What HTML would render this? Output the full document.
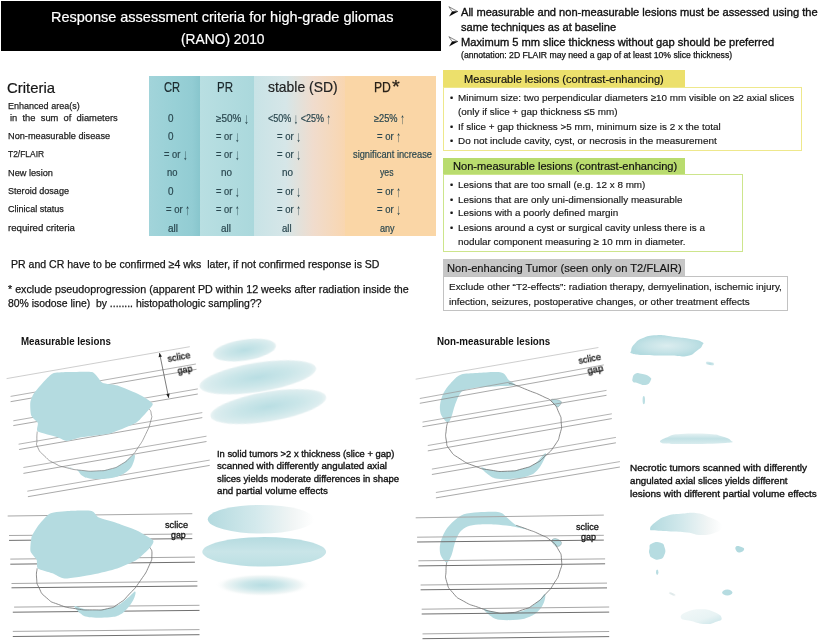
<!DOCTYPE html>
<html><head><meta charset="utf-8"><title>RANO 2010</title>
<style>
html,body{margin:0;padding:0;background:#fff;}
body{width:819px;height:640px;position:relative;overflow:hidden;font-family:"Liberation Sans", sans-serif;}
.t{position:absolute;white-space:pre;transform-origin:0 70%;font-family:"Liberation Sans", sans-serif;}
.b{position:absolute;box-sizing:border-box;}
svg{position:absolute;left:0;top:0;}
</style></head><body>
<div class="b" style="left:1px;top:1.3px;width:440px;height:50px;background:#000"></div>
<div class="b" style="left:149.4px;top:75.5px;width:50.6px;height:160px;background:linear-gradient(to right,#a2d4da 0%,#98d0d6 50%,#92ccd3 85%,#88c6cd 100%)"></div>
<div class="b" style="left:200px;top:75.5px;width:54px;height:160px;background:linear-gradient(to right,#b9dfe2,#aad8dc)"></div>
<div class="b" style="left:254px;top:75.5px;width:90.6px;height:160px;background:linear-gradient(to right,#c8e3e6 0%,#d6e6e8 35%,#f0dccd 65%,#f9d6b0 100%)"></div>
<div class="b" style="left:344.6px;top:75.5px;width:91.6px;height:160px;background:#fad6a6"></div>
<div class="b" style="left:443.4px;top:70px;width:242px;height:17.5px;background:#ece06c"></div>
<div class="b" style="left:443.4px;top:87px;width:358.6px;height:63.5px;border:1.5px solid #eee88c;background:#fff"></div>
<div class="b" style="left:443.4px;top:157.8px;width:242px;height:16.7px;background:#b9dc6e"></div>
<div class="b" style="left:443.4px;top:174px;width:299.6px;height:77.5px;border:1.5px solid #cde58c;background:#fff"></div>
<div class="b" style="left:443.4px;top:259px;width:242px;height:17.6px;background:#c6c6c6"></div>
<div class="b" style="left:443.4px;top:276.4px;width:344.6px;height:34.4px;border:1.5px solid #c2c2c2;background:#fff"></div>

<svg width="819" height="640" viewBox="0 0 819 640">
<defs>
<radialGradient id="rg1"><stop offset="0" stop-color="#b9dee3"/><stop offset="0.55" stop-color="#cbe6e9"/><stop offset="0.92" stop-color="#dcedef"/><stop offset="1" stop-color="#e9f3f4"/></radialGradient>
<linearGradient id="lgfade" x1="0" x2="1" y1="0" y2="0"><stop offset="0" stop-color="#b3dadf"/><stop offset="0.45" stop-color="#d3e9ec"/><stop offset="0.8" stop-color="#f1f5f5"/><stop offset="1" stop-color="#ffffff"/></linearGradient>
<linearGradient id="lgv" x1="0" x2="0" y1="0" y2="1"><stop offset="0" stop-color="#b5dbe0"/><stop offset="0.5" stop-color="#c9e5e8"/><stop offset="1" stop-color="#bbdfe3"/></linearGradient>
<radialGradient id="rgblur"><stop offset="0" stop-color="#b7dde2"/><stop offset="0.4" stop-color="#cbe6e9"/><stop offset="0.8" stop-color="#f0f6f6"/><stop offset="1" stop-color="#ffffff" stop-opacity="0"/></radialGradient>
<radialGradient id="rgb1"><stop offset="0" stop-color="#dbedef"/><stop offset="0.6" stop-color="#c6e3e7"/><stop offset="1" stop-color="#b4dbe0"/></radialGradient>
<linearGradient id="lgb5" x1="0" x2="0" y1="0" y2="1"><stop offset="0" stop-color="#e4f1f2"/><stop offset="0.5" stop-color="#c2e1e5"/><stop offset="1" stop-color="#d8ecee"/></linearGradient>
<linearGradient id="lgc7" x1="0" x2="1" y1="0" y2="1"><stop offset="0" stop-color="#f2f8f8"/><stop offset="0.6" stop-color="#e8f3f4"/><stop offset="1" stop-color="#c8e4e8"/></linearGradient>
<filter id="bl1" x="-10%" y="-10%" width="120%" height="120%"><feGaussianBlur stdDeviation="0.6"/></filter>
<filter id="bl2" x="-20%" y="-20%" width="140%" height="140%"><feGaussianBlur stdDeviation="1.2"/></filter>
</defs>
<line x1="6.6" y1="378.6" x2="189.8" y2="346.7" stroke="#bdbdbd" stroke-width="0.75"/>
<line x1="10.6" y1="396.4" x2="195.9" y2="364.0" stroke="#9a9a9a" stroke-width="0.75"/>
<line x1="10.6" y1="401.7" x2="196.5" y2="369.3" stroke="#8c8c8c" stroke-width="0.75"/>
<line x1="13.3" y1="420.8" x2="197.8" y2="388.9" stroke="#9a9a9a" stroke-width="0.75"/>
<line x1="13.3" y1="425.6" x2="197.8" y2="394.0" stroke="#8c8c8c" stroke-width="0.75"/>
<line x1="18.6" y1="444.2" x2="202.3" y2="412.6" stroke="#9a9a9a" stroke-width="0.75"/>
<line x1="19.1" y1="449.5" x2="202.3" y2="417.6" stroke="#8c8c8c" stroke-width="0.75"/>
<line x1="23.4" y1="467.5" x2="206.5" y2="436.2" stroke="#9a9a9a" stroke-width="0.75"/>
<line x1="23.4" y1="473.4" x2="206.5" y2="441.5" stroke="#8c8c8c" stroke-width="0.75"/>
<line x1="27.3" y1="491.2" x2="209.7" y2="460.1" stroke="#9a9a9a" stroke-width="0.75"/>
<line x1="27.9" y1="496.7" x2="209.7" y2="465.4" stroke="#8c8c8c" stroke-width="0.75"/>
<path d="M52.8,373.4C55.1,372.6 62.9,372.3 66.9,372.1C70.8,372.0 88.6,371.1 92.2,372.1C95.8,373.2 100.0,381.5 102.5,382.8C105.0,384.2 113.8,384.4 117.5,385.6C121.2,386.8 136.5,393.2 140.0,395.0C143.5,396.8 151.6,402.0 152.6,403.4C153.5,404.8 150.6,407.5 149.4,409.1C148.1,410.7 141.7,417.8 140.0,419.4C138.3,420.9 135.5,423.2 132.5,424.6C129.5,426.0 115.1,432.2 110.0,433.4C104.9,434.7 86.2,436.4 81.9,437.2C77.6,437.9 69.3,440.9 66.9,440.9C64.4,440.9 60.4,438.1 57.5,437.2C54.6,436.2 39.8,433.0 37.8,431.6C35.8,430.2 38.5,424.7 37.8,423.1C37.2,421.5 32.0,417.7 31.2,415.6C30.5,413.6 30.0,404.8 30.3,402.5C30.6,400.2 32.7,395.3 34.1,393.1C35.5,391.0 42.5,382.9 44.4,380.9C46.2,379.0 50.6,374.3 52.8,373.4Z" fill="#b4dbe0"/>
<path d="M65.0,466.2C65.8,466.5 72.9,467.8 76.2,469.6C79.6,471.5 79.2,473.9 81.9,475.6C84.5,477.4 84.9,477.8 89.4,478.4C93.9,479.1 98.8,479.2 104.4,478.8C110.0,478.4 112.6,478.3 117.5,476.6C122.4,474.8 125.6,472.8 128.8,470.0C131.9,467.2 132.2,465.5 133.4,462.5C134.6,459.5 135.3,456.1 134.8,455.0C134.2,453.9 133.3,455.0 130.6,456.9C127.9,458.8 125.4,461.9 121.2,464.4C117.1,466.8 114.9,467.8 110.0,469.1C105.1,470.4 102.5,470.7 96.9,470.9C91.2,471.2 86.8,470.9 81.9,470.4C77.0,469.9 75.9,469.3 72.5,468.5C69.1,467.7 64.2,466.0 65.0,466.2Z" fill="#b4dbe0"/>
<path d="M37.2,431.6C37.1,434.4 36.7,434.7 36.9,440.0C37.1,445.3 35.3,442.2 37.8,447.5C40.3,452.8 38.8,450.6 44.4,455.9C50.0,461.2 47.2,459.5 54.7,463.4C62.2,467.4 57.8,465.4 66.9,467.8C75.9,470.1 71.9,469.3 81.9,470.4C91.9,471.4 87.5,471.4 96.9,470.9C106.2,470.5 101.9,471.2 110.0,469.1C118.1,466.9 114.4,468.4 121.2,464.4C128.1,460.3 125.0,462.5 130.6,456.9C136.2,451.2 133.1,455.0 138.1,447.5C143.1,440.0 141.4,443.1 145.6,434.4C149.8,425.6 148.8,428.1 150.7,421.2C152.6,414.4 151.7,417.8 151.2,413.8C150.8,409.7 150.0,410.6 149.4,409.1" fill="none" stroke="#7d7d7d" stroke-width="0.7"/>
<line x1="159.5" y1="353.0" x2="168.7" y2="397.9" stroke="#444" stroke-width="0.7"/>
<path d="M159.5,353.0L162.0,356.6L158.6,357.3Z" fill="#222"/>
<path d="M168.7,397.9L166.2,394.3L169.6,393.6Z" fill="#222"/>
<line x1="7.7" y1="516.0" x2="192.3" y2="513.7" stroke="#a8a8a8" stroke-width="1.0"/>
<line x1="9.0" y1="535.5" x2="192.3" y2="534.0" stroke="#a8a8a8" stroke-width="1.0"/>
<line x1="9.0" y1="540.4" x2="192.3" y2="538.6" stroke="#707070" stroke-width="1.0"/>
<line x1="10.3" y1="559.1" x2="194.9" y2="557.1" stroke="#a8a8a8" stroke-width="1.0"/>
<line x1="10.3" y1="564.2" x2="194.9" y2="562.2" stroke="#707070" stroke-width="1.0"/>
<line x1="11.5" y1="583.5" x2="197.4" y2="581.4" stroke="#a8a8a8" stroke-width="1.0"/>
<line x1="11.5" y1="587.8" x2="197.4" y2="586.0" stroke="#707070" stroke-width="1.0"/>
<line x1="14.1" y1="607.1" x2="199.5" y2="605.3" stroke="#a8a8a8" stroke-width="1.0"/>
<line x1="12.8" y1="612.2" x2="199.5" y2="610.4" stroke="#707070" stroke-width="1.0"/>
<line x1="12.8" y1="631.4" x2="199.5" y2="629.6" stroke="#a8a8a8" stroke-width="1.0"/>
<line x1="12.8" y1="636.5" x2="199.5" y2="634.7" stroke="#707070" stroke-width="1.0"/>
<path d="M50.1,513.4C53.1,512.1 65.4,511.2 69.6,511.0C73.7,510.7 88.6,510.3 91.6,511.0C94.5,511.6 96.3,516.4 98.9,517.6C101.5,518.8 113.4,521.9 117.2,523.2C121.0,524.5 133.2,528.8 136.8,530.5C140.3,532.2 151.8,538.6 153.1,540.3C154.5,542.0 151.8,545.7 150.2,547.6C148.5,549.6 140.0,557.8 136.8,559.8C133.5,561.9 121.6,566.9 117.2,568.4C112.8,569.8 98.0,573.5 92.8,574.5C87.5,575.5 68.7,578.8 64.7,578.6C60.7,578.5 55.2,574.3 52.5,573.3C49.8,572.2 39.4,569.7 37.9,568.4C36.3,567.0 37.4,561.5 36.6,559.8C35.9,558.1 31.0,553.6 30.5,551.3C30.0,549.0 30.9,539.3 31.7,536.6C32.6,533.9 37.2,526.7 39.1,524.4C40.9,522.1 47.0,514.8 50.1,513.4Z" fill="#b4dbe0"/>
<path d="M74.5,606.2C74.0,607.2 77.7,611.4 80.6,613.6C83.5,615.8 83.3,616.5 89.1,617.2C95.0,617.9 103.8,617.7 109.9,617.2C116.0,616.7 116.0,616.7 119.7,614.8C123.3,612.8 125.3,610.9 128.2,607.4C131.1,604.0 132.9,600.9 134.3,597.7C135.7,594.5 136.0,591.8 135.0,591.6C134.1,591.3 132.7,593.8 129.4,596.5C126.1,599.1 122.8,602.6 118.4,605.0C114.0,607.4 112.6,607.7 107.4,608.7C102.3,609.6 97.7,609.9 92.8,609.9C87.9,609.9 86.7,609.4 83.0,608.7C79.4,607.9 75.0,605.3 74.5,606.2Z" fill="#b4dbe0"/>
<path d="M37.1,568.4C37.0,571.6 36.0,571.6 36.6,578.1C37.3,584.7 35.8,581.4 39.1,587.9C42.3,594.4 39.9,592.1 46.4,597.7C52.9,603.2 48.8,600.9 58.6,604.5C68.4,608.2 64.3,606.9 75.7,608.7C87.1,610.5 82.2,609.9 92.8,609.9C103.4,609.9 98.9,610.7 107.4,608.7C116.0,606.6 111.1,608.7 118.4,603.8C125.8,598.9 122.1,601.8 129.4,594.0C136.8,586.3 133.9,589.9 140.4,580.6C146.9,571.2 145.1,574.5 149.0,565.9C152.8,557.4 151.5,561.1 151.9,554.9C152.3,548.8 150.8,550.1 150.2,547.6" fill="none" stroke="#6e6e6e" stroke-width="0.8"/>
<path d="M447.5,422.5C446.0,422.1 442.4,417.6 441.2,415.0C440.1,412.4 439.6,408.4 440.0,405.0C440.4,401.6 441.9,396.1 443.8,392.5C445.6,388.9 449.9,383.9 452.5,381.2C455.1,378.6 457.5,375.7 461.2,374.5C465.0,373.3 471.5,373.3 477.5,373.0C483.5,372.7 496.6,371.4 501.2,372.5C505.9,373.6 506.7,378.1 508.8,380.0C510.8,381.9 516.7,384.1 515.0,385.0C513.3,385.9 503.1,385.9 497.5,386.2C491.9,386.6 482.4,386.9 477.5,387.5C472.6,388.1 467.6,389.1 465.0,390.0C462.4,390.9 461.5,391.5 460.0,393.8C458.5,396.0 456.3,401.4 455.0,405.0C453.7,408.6 452.4,414.9 451.2,417.5C450.1,420.1 449.0,422.9 447.5,422.5Z" fill="#b4dbe0"/>
<path d="M481.2,467.5C481.0,468.5 485.5,472.8 488.8,475.0C492.0,477.2 492.8,478.0 497.5,478.8C502.2,479.5 506.5,479.2 512.5,478.8C518.5,478.2 522.5,478.0 527.5,476.2C532.5,474.5 534.0,473.8 537.5,470.0C541.0,466.2 543.6,460.8 545.0,457.5C546.4,454.2 546.5,452.5 544.5,453.8C542.5,455.0 539.4,460.8 535.0,463.8C530.6,466.8 528.0,467.2 522.5,468.8C517.0,470.2 514.0,471.0 507.5,471.2C501.0,471.5 495.2,470.8 490.0,470.0C484.8,469.2 481.5,466.5 481.2,467.5Z" fill="#b4dbe0"/>
<path d="M551.2,399.5C551.5,398.9 554.9,399.2 556.2,399.5C557.6,399.8 561.3,401.0 561.5,402.0C561.7,403.0 559.0,406.7 558.0,407.0C557.0,407.3 554.9,405.0 554.0,404.0C553.1,403.0 551.0,400.1 551.2,399.5Z" fill="#b4dbe0" stroke="#8a9a9c" stroke-width="0.5"/>
<line x1="415.7" y1="379.2" x2="598.4" y2="347.5" stroke="#bdbdbd" stroke-width="0.75"/>
<line x1="419.8" y1="398.5" x2="603.8" y2="364.9" stroke="#9a9a9a" stroke-width="0.75"/>
<line x1="419.8" y1="403.3" x2="603.8" y2="370.3" stroke="#8c8c8c" stroke-width="0.75"/>
<line x1="422.5" y1="422.1" x2="606.5" y2="390.4" stroke="#9a9a9a" stroke-width="0.75"/>
<line x1="422.5" y1="426.7" x2="606.5" y2="395.3" stroke="#8c8c8c" stroke-width="0.75"/>
<line x1="427.8" y1="445.5" x2="611.8" y2="413.8" stroke="#9a9a9a" stroke-width="0.75"/>
<line x1="427.8" y1="450.9" x2="611.8" y2="418.6" stroke="#8c8c8c" stroke-width="0.75"/>
<line x1="431.9" y1="469.1" x2="615.9" y2="437.4" stroke="#9a9a9a" stroke-width="0.75"/>
<line x1="431.9" y1="474.5" x2="615.9" y2="442.8" stroke="#8c8c8c" stroke-width="0.75"/>
<line x1="435.9" y1="492.5" x2="619.9" y2="461.6" stroke="#9a9a9a" stroke-width="0.75"/>
<line x1="435.9" y1="497.9" x2="619.9" y2="467.0" stroke="#8c8c8c" stroke-width="0.75"/>
<path d="M508.8,383.5C510.8,384.0 508.8,382.8 515.0,385.0C521.2,387.2 518.3,386.2 527.5,390.0C536.7,393.8 534.2,392.1 542.5,396.2C550.8,400.4 547.1,397.1 552.5,402.5C557.9,407.9 555.8,405.8 558.8,412.5C561.7,419.2 560.8,415.4 561.2,422.5C561.7,429.6 562.1,426.2 560.0,433.8C557.9,441.2 560.0,437.5 555.0,445.0C550.0,452.5 551.7,450.0 545.0,456.2C538.3,462.5 542.5,459.6 535.0,463.8C527.5,467.9 531.7,466.2 522.5,468.8C513.3,471.2 518.3,470.8 507.5,471.2C496.7,471.7 500.8,471.7 490.0,470.0C479.2,468.3 485.0,470.0 475.0,466.2C465.0,462.5 468.3,464.2 460.0,458.8C451.7,453.3 454.6,456.2 450.0,450.0C445.4,443.8 447.5,446.7 446.2,440.0C445.0,433.3 445.8,435.8 446.2,430.0C446.7,424.2 447.1,425.0 447.5,422.5" fill="none" stroke="#6e6e6e" stroke-width="0.8"/>
<path d="M446.7,562.3C445.1,562.3 441.6,557.7 440.6,554.9C439.7,552.2 439.4,547.6 440.2,544.0C440.9,540.3 443.4,534.0 445.5,530.5C447.6,527.0 451.3,523.2 454.1,520.8C456.8,518.3 460.2,515.4 463.8,514.2C467.5,512.9 473.2,512.5 478.5,512.2C483.8,511.9 494.9,511.3 499.2,512.2C503.6,513.1 505.4,516.5 507.8,518.3C510.2,520.1 512.2,522.8 515.1,524.4C518.1,526.1 527.7,529.0 527.3,529.3C527.0,529.6 517.4,527.1 512.7,526.4C507.9,525.6 500.7,524.7 495.6,524.4C490.5,524.1 482.7,524.1 478.5,524.4C474.3,524.7 470.3,525.3 467.5,526.4C464.8,527.5 462.0,529.5 460.2,531.7C458.3,534.0 456.6,538.0 455.3,541.5C454.0,545.0 452.9,551.8 451.6,554.9C450.3,558.1 448.4,562.3 446.7,562.3Z" fill="#b4dbe0"/>
<path d="M483.4,608.7C483.4,609.6 487.5,613.8 490.7,616.0C493.9,618.2 493.9,618.9 499.2,619.7C504.6,620.4 511.5,620.2 517.6,619.7C523.7,619.1 525.6,618.4 529.8,616.7C533.9,615.0 535.5,613.9 538.3,611.1C541.2,608.3 542.6,606.0 543.9,602.6C545.3,599.1 545.8,594.5 544.9,594.0C544.0,593.5 542.6,597.4 539.5,600.1C536.5,602.8 534.2,605.1 529.8,607.4C525.4,609.8 523.4,610.8 517.6,611.8C511.7,612.9 505.8,613.0 500.5,612.8C495.1,612.7 494.1,611.9 490.7,611.1C487.3,610.3 483.4,607.7 483.4,608.7Z" fill="#b4dbe0"/>
<path d="M551.8,540.3C552.0,539.4 553.9,538.4 555.4,538.6C557.0,538.8 560.2,540.4 561.0,541.5C561.9,542.6 561.3,544.4 560.5,545.2C559.8,546.0 557.8,546.6 556.6,546.4C555.5,546.2 554.5,545.0 553.7,544.0C552.9,542.9 551.5,541.2 551.8,540.3Z" fill="#b4dbe0" stroke="#8a9a9c" stroke-width="0.5"/>
<line x1="415.7" y1="517.8" x2="603.8" y2="515.1" stroke="#a8a8a8" stroke-width="1.0"/>
<line x1="417.1" y1="537.2" x2="603.8" y2="535.3" stroke="#a8a8a8" stroke-width="1.0"/>
<line x1="417.1" y1="542.0" x2="603.8" y2="540.1" stroke="#707070" stroke-width="1.0"/>
<line x1="418.4" y1="560.8" x2="605.1" y2="558.9" stroke="#a8a8a8" stroke-width="1.0"/>
<line x1="418.4" y1="565.9" x2="605.1" y2="563.8" stroke="#707070" stroke-width="1.0"/>
<line x1="420.6" y1="585.0" x2="607.0" y2="583.1" stroke="#a8a8a8" stroke-width="1.0"/>
<line x1="420.6" y1="589.8" x2="607.0" y2="587.9" stroke="#707070" stroke-width="1.0"/>
<line x1="421.7" y1="609.2" x2="609.2" y2="607.0" stroke="#a8a8a8" stroke-width="1.0"/>
<line x1="421.7" y1="614.0" x2="609.2" y2="612.1" stroke="#707070" stroke-width="1.0"/>
<line x1="422.5" y1="633.9" x2="609.2" y2="631.5" stroke="#a8a8a8" stroke-width="1.0"/>
<line x1="422.5" y1="638.7" x2="609.2" y2="636.6" stroke="#707070" stroke-width="1.0"/>
<path d="M516.3,525.4C520.0,526.7 519.6,526.4 527.3,529.3C535.1,532.2 531.8,530.5 539.5,534.2C547.3,537.9 544.4,535.4 550.5,540.3C556.6,545.2 554.2,542.3 557.9,548.8C561.5,555.4 561.0,552.1 561.5,559.8C562.1,567.6 562.0,564.3 559.6,572.0C557.1,579.8 558.8,575.7 554.2,583.0C549.6,590.4 552.2,587.1 545.6,594.0C539.1,600.9 542.4,598.5 534.7,603.8C526.9,609.1 531.4,606.9 522.4,609.9C513.5,612.9 517.6,612.2 507.8,612.8C498.0,613.5 502.9,613.6 493.1,611.8C483.4,610.1 488.3,610.9 478.5,607.4C468.7,603.9 472.4,606.2 463.8,601.3C455.3,596.5 458.5,599.3 452.9,592.8C447.2,586.3 449.0,589.1 446.7,581.8C444.5,574.5 446.0,577.3 446.0,570.8C446.0,564.3 446.5,565.1 446.7,562.3" fill="none" stroke="#6e6e6e" stroke-width="0.8"/>
<ellipse cx="244.5" cy="350.1" rx="31.9" ry="10.6" transform="rotate(-8.5 244.5 350.1)" fill="url(#rg1)" filter="url(#bl1)"/>
<ellipse cx="257.8" cy="377.3" rx="59.0" ry="14.7" transform="rotate(-9 257.8 377.3)" fill="url(#rg1)" filter="url(#bl1)"/>
<ellipse cx="268.3" cy="406.6" rx="58.6" ry="15.0" transform="rotate(-9.5 268.3 406.6)" fill="url(#rg1)" filter="url(#bl1)"/>
<ellipse cx="260.9" cy="519.2" rx="53.1" ry="14.3" transform="rotate(0 260.9 519.2)" fill="url(#lgfade)" filter="url(#bl1)"/>
<ellipse cx="264.2" cy="551.8" rx="61.9" ry="14.7" transform="rotate(0 264.2 551.8)" fill="url(#lgv)" filter="url(#bl1)"/>
<ellipse cx="262.8" cy="585.1" rx="47.6" ry="11.4" transform="rotate(0 262.8 585.1)" fill="url(#rgblur)" />
<path d="M631.2,350.4C631.7,348.0 631.2,347.6 634.2,344.3C637.2,341.1 636.4,340.7 642.4,338.2C648.3,335.8 648.5,335.5 656.6,335.2C664.7,334.8 664.2,335.8 672.8,336.8C681.5,337.8 681.5,337.5 689.1,338.8C696.7,340.1 697.8,339.9 701.3,341.7C704.8,343.4 703.4,343.0 702.3,345.3C701.2,347.7 701.3,347.6 697.2,350.4C693.2,353.2 694.1,354.5 687.1,355.9C680.0,357.2 678.9,355.6 670.8,355.5C662.7,355.4 664.2,355.6 656.6,355.5C649.0,355.4 648.9,355.6 642.4,355.1C635.9,354.5 635.2,354.7 632.2,353.5C629.2,352.2 630.6,352.8 631.2,350.4Z" fill="url(#rgb1)" filter="url(#bl1)"/>
<path d="M632.6,378.3C633.1,376.1 632.9,375.0 635.2,373.8C637.6,372.6 637.5,373.0 641.3,373.8C645.1,374.6 647.0,374.9 649.5,376.8C651.9,378.7 651.6,378.7 650.5,380.9C649.4,383.1 648.9,384.4 645.4,385.0C641.9,385.5 640.5,383.7 637.3,382.9C634.0,382.1 634.5,383.2 633.2,381.9C632.0,380.7 632.1,380.4 632.6,378.3Z" fill="#b8dde1" filter="url(#bl1)"/>
<ellipse cx="643.8" cy="400.2" rx="1.2" ry="4.1" transform="rotate(0 643.8 400.2)" fill="#bcdfe3" filter="url(#bl1)"/>
<ellipse cx="710.0" cy="363.6" rx="4.1" ry="1.4" transform="rotate(10 710.0 363.6)" fill="#b9dde2" filter="url(#bl1)"/>
<path d="M660.7,442.5C657.8,440.7 664.0,438.4 668.8,436.4C673.5,434.4 671.5,434.5 681.0,433.9C690.5,433.4 699.9,433.4 709.4,433.9C718.9,434.5 716.6,434.7 721.6,436.2C726.6,437.7 729.8,438.9 730.8,440.4C731.7,442.0 737.3,442.1 725.7,442.9C714.1,443.7 696.2,444.0 681.0,443.9C665.8,443.8 663.5,444.2 660.7,442.5Z" fill="url(#lgb5)" filter="url(#bl1)"/>
<path d="M650.1,528.9C650.1,526.4 652.1,524.8 656.6,521.3C661.0,517.9 660.2,517.9 666.7,515.9C673.3,513.8 672.8,514.5 681.0,513.8C689.1,513.1 689.6,512.3 697.2,513.2C704.8,514.1 703.5,514.8 709.4,517.3C715.4,519.7 716.3,519.6 719.6,522.4C722.8,525.1 722.7,524.7 721.6,527.4C720.5,530.1 720.9,530.5 715.5,532.5C710.1,534.5 708.9,535.0 701.3,535.0C693.7,535.0 695.2,533.4 687.1,532.5C678.9,531.6 678.9,532.0 670.8,531.5C662.7,531.0 662.1,531.2 656.6,530.5C651.1,529.8 650.1,531.3 650.1,528.9Z" fill="url(#lgfade)" filter="url(#bl1)"/>
<path d="M649.5,548.8C650.0,546.1 648.5,545.3 651.5,543.7C654.5,542.1 657.1,541.6 660.7,542.7C664.2,543.8 663.7,544.5 664.7,547.8C665.7,551.0 665.7,551.8 664.3,554.9C663.0,558.0 662.8,558.5 659.6,559.3C656.5,560.2 655.2,559.4 652.5,557.9C649.8,556.5 650.3,556.3 649.5,553.9C648.7,551.4 648.9,551.5 649.5,548.8Z" fill="#b6dce1" filter="url(#bl1)"/>
<ellipse cx="657.2" cy="572.2" rx="1.2" ry="2.8" transform="rotate(0 657.2 572.2)" fill="#b9dde2" filter="url(#bl1)"/>
<path d="M736.3,546.3C737.8,545.4 739.9,546.2 742.0,547.2C744.0,548.1 744.5,548.4 744.0,549.8C743.4,551.2 742.0,552.2 739.9,552.4C737.9,552.7 737.2,552.4 736.3,550.8C735.3,549.2 734.7,547.3 736.3,546.3Z" fill="#b2dadf" filter="url(#bl1)"/>
<ellipse cx="727.3" cy="592.5" rx="5.1" ry="3.0" transform="rotate(0 727.3 592.5)" fill="#b6dce1" filter="url(#bl1)"/>
<ellipse cx="672.2" cy="593.9" rx="3.3" ry="1.0" transform="rotate(25 672.2 593.9)" fill="#dfe9ea" filter="url(#bl1)"/>
<path d="M681.0,617.9C679.9,615.4 681.7,614.1 687.1,611.8C692.5,609.5 694.3,609.3 701.3,609.3C708.3,609.3 708.1,609.5 713.5,611.8C718.9,614.1 721.1,615.2 721.6,617.9C722.2,620.6 719.9,620.3 715.5,622.0C711.2,623.6 711.9,624.3 705.4,624.0C698.9,623.7 697.6,622.6 691.1,620.9C684.6,619.3 682.1,620.3 681.0,617.9Z" fill="url(#lgc7)" filter="url(#bl1)"/>
<path d="M448.9,6.7L457.9,11.6L452.2,11.6Z" fill="#fff" stroke="#555" stroke-width="0.7" stroke-linejoin="miter"/>
<path d="M452.0,11.4L458.1,11.4L449.0,16.5Z" fill="#0a0a0a"/>
<path d="M448.9,36.7L457.9,41.6L452.2,41.6Z" fill="#fff" stroke="#555" stroke-width="0.7" stroke-linejoin="miter"/>
<path d="M452.0,41.4L458.1,41.4L449.0,46.5Z" fill="#0a0a0a"/>
</svg>
<div class="t" style="left:50.6px;top:8.14px;font-size:14.6px;line-height:18px;font-weight:400;color:#fff;transform:scaleX(0.9932);-webkit-text-stroke:0.2px #fff;">Response assessment criteria for high-grade gliomas</div>
<div class="t" style="left:180.5px;top:30.24px;font-size:14.6px;line-height:18px;font-weight:400;color:#fff;transform:scaleX(0.9445);-webkit-text-stroke:0.2px #fff;">(RANO) 2010</div>
<div class="t" style="left:7.0px;top:78.94px;font-size:14.6px;line-height:18px;font-weight:400;color:#161616;transform:scaleX(1.0206);-webkit-text-stroke:0.2px #161616;">Criteria</div>
<div class="t" style="left:164.4px;top:78.44px;font-size:14.6px;line-height:18px;font-weight:400;color:#1c2a2e;transform:scaleX(0.7633);-webkit-text-stroke:0.2px #1c2a2e;">CR</div>
<div class="t" style="left:217.0px;top:78.44px;font-size:14.6px;line-height:18px;font-weight:400;color:#1c2a2e;transform:scaleX(0.7889);-webkit-text-stroke:0.2px #1c2a2e;">PR</div>
<div class="t" style="left:268.4px;top:78.44px;font-size:14.6px;line-height:18px;font-weight:400;color:#222;transform:scaleX(0.9534);-webkit-text-stroke:0.2px #222;">stable (SD)</div>
<div class="t" style="left:373.9px;top:78.14px;font-size:14.6px;line-height:18px;font-weight:400;color:#2a2218;transform:scaleX(0.8333);-webkit-text-stroke:0.25px #2a2218;">PD</div>
<div class="t" style="left:392.0px;top:74.69px;font-size:18.5px;line-height:23px;font-weight:400;color:#2a2218;transform:scaleX(1.0829);-webkit-text-stroke:0.2px #2a2218;">*</div>
<div class="t" style="left:7.9px;top:99.57px;font-size:9.9px;line-height:12px;font-weight:400;color:#1c1c1c;transform:scaleX(0.9134);-webkit-text-stroke:0.25px #1c1c1c;">Enhanced area(s)</div>
<div class="t" style="left:10.3px;top:112.07px;font-size:9.9px;line-height:12px;font-weight:400;color:#1c1c1c;transform:scaleX(0.9479);-webkit-text-stroke:0.25px #1c1c1c;">in  the  sum  of  diameters</div>
<div class="t" style="left:7.9px;top:129.87px;font-size:9.9px;line-height:12px;font-weight:400;color:#1c1c1c;transform:scaleX(0.9299);-webkit-text-stroke:0.25px #1c1c1c;">Non-measurable disease</div>
<div class="t" style="left:7.9px;top:148.17px;font-size:9.9px;line-height:12px;font-weight:400;color:#1c1c1c;transform:scaleX(0.8541);-webkit-text-stroke:0.25px #1c1c1c;">T2/FLAIR</div>
<div class="t" style="left:7.9px;top:166.57px;font-size:9.9px;line-height:12px;font-weight:400;color:#1c1c1c;transform:scaleX(0.9314);-webkit-text-stroke:0.25px #1c1c1c;">New lesion</div>
<div class="t" style="left:7.9px;top:184.97px;font-size:9.9px;line-height:12px;font-weight:400;color:#1c1c1c;transform:scaleX(0.9182);-webkit-text-stroke:0.25px #1c1c1c;">Steroid dosage</div>
<div class="t" style="left:7.9px;top:203.37px;font-size:9.9px;line-height:12px;font-weight:400;color:#1c1c1c;transform:scaleX(0.9176);-webkit-text-stroke:0.25px #1c1c1c;">Clinical status</div>
<div class="t" style="left:7.9px;top:221.77px;font-size:9.9px;line-height:12px;font-weight:400;color:#1c1c1c;transform:scaleX(0.9751);-webkit-text-stroke:0.25px #1c1c1c;">required criteria</div>
<div class="t" style="left:168.0px;top:112.07px;font-size:10.2px;line-height:13px;font-weight:400;color:#2a474f;transform:scaleX(0.9697);-webkit-text-stroke:0.2px #2a474f;">0</div>
<div class="t" style="left:168.0px;top:129.97px;font-size:10.2px;line-height:13px;font-weight:400;color:#2a474f;transform:scaleX(0.9697);-webkit-text-stroke:0.2px #2a474f;">0</div>
<div class="t" style="left:164.0px;top:147.97px;font-size:10.2px;line-height:13px;font-weight:400;color:#2a474f;transform:scaleX(0.9159);-webkit-text-stroke:0.2px #2a474f;">= or <span style="display:inline-block;-webkit-text-stroke:0;transform:scaleY(1.490);transform-origin:50% 6.89px">↓</span></div>
<div class="t" style="left:167.0px;top:166.47px;font-size:10.2px;line-height:13px;font-weight:400;color:#2a474f;transform:scaleX(0.9256);-webkit-text-stroke:0.2px #2a474f;">no</div>
<div class="t" style="left:168.0px;top:184.97px;font-size:10.2px;line-height:13px;font-weight:400;color:#2a474f;transform:scaleX(0.9697);-webkit-text-stroke:0.2px #2a474f;">0</div>
<div class="t" style="left:166.0px;top:203.47px;font-size:10.2px;line-height:13px;font-weight:400;color:#2a474f;transform:scaleX(0.9315);-webkit-text-stroke:0.2px #2a474f;">= or <span style="display:inline-block;-webkit-text-stroke:0;transform:scaleY(1.490);transform-origin:50% 6.89px">↑</span></div>
<div class="t" style="left:168.0px;top:221.57px;font-size:10.2px;line-height:13px;font-weight:400;color:#2a474f;transform:scaleX(0.9801);-webkit-text-stroke:0.2px #2a474f;">all</div>
<div class="t" style="left:216.0px;top:112.07px;font-size:10.2px;line-height:13px;font-weight:400;color:#2a474f;transform:scaleX(0.9733);-webkit-text-stroke:0.2px #2a474f;">≥50% <span style="display:inline-block;-webkit-text-stroke:0;transform:scaleY(1.490);transform-origin:50% 6.89px">↓</span></div>
<div class="t" style="left:216.0px;top:129.97px;font-size:10.2px;line-height:13px;font-weight:400;color:#2a474f;transform:scaleX(0.9159);-webkit-text-stroke:0.2px #2a474f;">= or <span style="display:inline-block;-webkit-text-stroke:0;transform:scaleY(1.490);transform-origin:50% 6.89px">↓</span></div>
<div class="t" style="left:216.0px;top:147.97px;font-size:10.2px;line-height:13px;font-weight:400;color:#2a474f;transform:scaleX(0.9159);-webkit-text-stroke:0.2px #2a474f;">= or <span style="display:inline-block;-webkit-text-stroke:0;transform:scaleY(1.490);transform-origin:50% 6.89px">↓</span></div>
<div class="t" style="left:220.6px;top:166.47px;font-size:10.2px;line-height:13px;font-weight:400;color:#2a474f;transform:scaleX(0.9697);-webkit-text-stroke:0.2px #2a474f;">no</div>
<div class="t" style="left:216.0px;top:184.97px;font-size:10.2px;line-height:13px;font-weight:400;color:#2a474f;transform:scaleX(0.9159);-webkit-text-stroke:0.2px #2a474f;">= or <span style="display:inline-block;-webkit-text-stroke:0;transform:scaleY(1.490);transform-origin:50% 6.89px">↓</span></div>
<div class="t" style="left:216.0px;top:203.47px;font-size:10.2px;line-height:13px;font-weight:400;color:#2a474f;transform:scaleX(0.9159);-webkit-text-stroke:0.2px #2a474f;">= or <span style="display:inline-block;-webkit-text-stroke:0;transform:scaleY(1.490);transform-origin:50% 6.89px">↑</span></div>
<div class="t" style="left:220.6px;top:221.57px;font-size:10.2px;line-height:13px;font-weight:400;color:#2a474f;transform:scaleX(0.9703);-webkit-text-stroke:0.2px #2a474f;">all</div>
<div class="t" style="left:268.0px;top:112.07px;font-size:10.2px;line-height:13px;font-weight:400;color:#2a474f;transform:scaleX(0.8827);-webkit-text-stroke:0.2px #2a474f;">&lt;50% <span style="display:inline-block;-webkit-text-stroke:0;transform:scaleY(1.490);transform-origin:50% 6.89px">↓</span> &lt;25% <span style="display:inline-block;-webkit-text-stroke:0;transform:scaleY(1.490);transform-origin:50% 6.89px">↑</span></div>
<div class="t" style="left:277.0px;top:129.97px;font-size:10.2px;line-height:13px;font-weight:400;color:#2a474f;transform:scaleX(0.9315);-webkit-text-stroke:0.2px #2a474f;">= or <span style="display:inline-block;-webkit-text-stroke:0;transform:scaleY(1.490);transform-origin:50% 6.89px">↓</span></div>
<div class="t" style="left:277.0px;top:147.97px;font-size:10.2px;line-height:13px;font-weight:400;color:#2a474f;transform:scaleX(0.9315);-webkit-text-stroke:0.2px #2a474f;">= or <span style="display:inline-block;-webkit-text-stroke:0;transform:scaleY(1.490);transform-origin:50% 6.89px">↓</span></div>
<div class="t" style="left:282.0px;top:166.47px;font-size:10.2px;line-height:13px;font-weight:400;color:#2a474f;transform:scaleX(0.9697);-webkit-text-stroke:0.2px #2a474f;">no</div>
<div class="t" style="left:277.0px;top:184.97px;font-size:10.2px;line-height:13px;font-weight:400;color:#2a474f;transform:scaleX(0.9315);-webkit-text-stroke:0.2px #2a474f;">= or <span style="display:inline-block;-webkit-text-stroke:0;transform:scaleY(1.490);transform-origin:50% 6.89px">↓</span></div>
<div class="t" style="left:277.0px;top:203.47px;font-size:10.2px;line-height:13px;font-weight:400;color:#2a474f;transform:scaleX(0.9315);-webkit-text-stroke:0.2px #2a474f;">= or <span style="display:inline-block;-webkit-text-stroke:0;transform:scaleY(1.490);transform-origin:50% 6.89px">↑</span></div>
<div class="t" style="left:282.0px;top:221.57px;font-size:10.2px;line-height:13px;font-weight:400;color:#2a474f;transform:scaleX(0.9409);-webkit-text-stroke:0.2px #2a474f;">all</div>
<div class="t" style="left:373.7px;top:112.07px;font-size:10.2px;line-height:13px;font-weight:400;color:#2a474f;transform:scaleX(0.9084);-webkit-text-stroke:0.2px #2a474f;">≥25% <span style="display:inline-block;-webkit-text-stroke:0;transform:scaleY(1.490);transform-origin:50% 6.89px">↑</span></div>
<div class="t" style="left:377.0px;top:129.97px;font-size:10.2px;line-height:13px;font-weight:400;color:#2a474f;transform:scaleX(0.9315);-webkit-text-stroke:0.2px #2a474f;">= or <span style="display:inline-block;-webkit-text-stroke:0;transform:scaleY(1.490);transform-origin:50% 6.89px">↑</span></div>
<div class="t" style="left:353.0px;top:147.97px;font-size:10.2px;line-height:13px;font-weight:400;color:#2a474f;transform:scaleX(0.9118);-webkit-text-stroke:0.2px #2a474f;">significant increase</div>
<div class="t" style="left:380.0px;top:166.47px;font-size:10.2px;line-height:13px;font-weight:400;color:#2a474f;transform:scaleX(0.8512);-webkit-text-stroke:0.2px #2a474f;">yes</div>
<div class="t" style="left:377.0px;top:184.97px;font-size:10.2px;line-height:13px;font-weight:400;color:#2a474f;transform:scaleX(0.9315);-webkit-text-stroke:0.2px #2a474f;">= or <span style="display:inline-block;-webkit-text-stroke:0;transform:scaleY(1.490);transform-origin:50% 6.89px">↑</span></div>
<div class="t" style="left:377.0px;top:203.47px;font-size:10.2px;line-height:13px;font-weight:400;color:#2a474f;transform:scaleX(0.9315);-webkit-text-stroke:0.2px #2a474f;">= or <span style="display:inline-block;-webkit-text-stroke:0;transform:scaleY(1.490);transform-origin:50% 6.89px">↓</span></div>
<div class="t" style="left:380.0px;top:221.57px;font-size:10.2px;line-height:13px;font-weight:400;color:#2a474f;transform:scaleX(0.8882);-webkit-text-stroke:0.2px #2a474f;">any</div>
<div class="t" style="left:11.3px;top:256.96px;font-size:10.8px;line-height:14px;font-weight:400;color:#141414;transform:scaleX(0.9764);-webkit-text-stroke:0.25px #141414;">PR and CR have to be confirmed ≥4 wks  later, if not confirmed response is SD</div>
<div class="t" style="left:8.0px;top:282.26px;font-size:10.8px;line-height:14px;font-weight:400;color:#141414;transform:scaleX(0.9922);-webkit-text-stroke:0.25px #141414;">* exclude pseudoprogression (apparent PD within 12 weeks after radiation inside the</div>
<div class="t" style="left:7.5px;top:296.46px;font-size:10.8px;line-height:14px;font-weight:400;color:#141414;transform:scaleX(0.9643);-webkit-text-stroke:0.25px #141414;">80% isodose line)  by ........ histopathologic sampling??</div>
<div class="t" style="left:460.7px;top:5.26px;font-size:10.8px;line-height:14px;font-weight:400;color:#111;transform:scaleX(1.0279);-webkit-text-stroke:0.35px #111;">All measurable and non-measurable lesions must be assessed using the</div>
<div class="t" style="left:460.7px;top:20.26px;font-size:10.8px;line-height:14px;font-weight:400;color:#111;transform:scaleX(1.0253);-webkit-text-stroke:0.35px #111;">same techniques as at baseline</div>
<div class="t" style="left:460.7px;top:35.26px;font-size:10.8px;line-height:14px;font-weight:400;color:#111;transform:scaleX(1.0291);-webkit-text-stroke:0.35px #111;">Maximum 5 mm slice thickness without gap should be preferred</div>
<div class="t" style="left:460.7px;top:49.99px;font-size:8.4px;line-height:10px;font-weight:400;color:#111;transform:scaleX(1.0325);-webkit-text-stroke:0.25px #111;">(annotation: 2D FLAIR may need a gap of at least 10% slice thickness)</div>
<div class="t" style="left:464.4px;top:71.99px;font-size:11px;line-height:14px;font-weight:400;color:#111;transform:scaleX(1.0054);-webkit-text-stroke:0.2px #111;">Measurable lesions (contrast-enhancing)</div>
<div class="t" style="left:450.0px;top:92.07px;font-size:9.6px;line-height:12px;font-weight:400;color:#151515;transform:scaleX(0.9526);-webkit-text-stroke:0.15px #151515;">•</div>
<div class="t" style="left:458.0px;top:92.07px;font-size:9.6px;line-height:12px;font-weight:400;color:#151515;transform:scaleX(1.0293);-webkit-text-stroke:0.15px #151515;">Minimum size: two perpendicular diameters ≥10 mm visible on ≥2 axial slices</div>
<div class="t" style="left:458.0px;top:106.47px;font-size:9.6px;line-height:12px;font-weight:400;color:#151515;transform:scaleX(1.0302);-webkit-text-stroke:0.15px #151515;">(only if slice + gap thickness ≤5 mm)</div>
<div class="t" style="left:450.0px;top:121.07px;font-size:9.6px;line-height:12px;font-weight:400;color:#151515;transform:scaleX(0.9526);-webkit-text-stroke:0.15px #151515;">•</div>
<div class="t" style="left:458.0px;top:121.07px;font-size:9.6px;line-height:12px;font-weight:400;color:#151515;transform:scaleX(1.0311);-webkit-text-stroke:0.15px #151515;">If slice + gap thickness &gt;5 mm, minimum size is 2 x the total</div>
<div class="t" style="left:450.0px;top:135.27px;font-size:9.6px;line-height:12px;font-weight:400;color:#151515;transform:scaleX(0.9526);-webkit-text-stroke:0.15px #151515;">•</div>
<div class="t" style="left:458.0px;top:135.27px;font-size:9.6px;line-height:12px;font-weight:400;color:#151515;transform:scaleX(1.0352);-webkit-text-stroke:0.15px #151515;">Do not include cavity, cyst, or necrosis in the measurement</div>
<div class="t" style="left:452.7px;top:159.49px;font-size:11px;line-height:14px;font-weight:400;color:#111;transform:scaleX(1.0074);-webkit-text-stroke:0.2px #111;">Non-measurable lesions (contrast-enhancing)</div>
<div class="t" style="left:450.0px;top:179.27px;font-size:9.6px;line-height:12px;font-weight:400;color:#151515;transform:scaleX(0.9526);-webkit-text-stroke:0.15px #151515;">•</div>
<div class="t" style="left:450.0px;top:193.67px;font-size:9.6px;line-height:12px;font-weight:400;color:#151515;transform:scaleX(0.9526);-webkit-text-stroke:0.15px #151515;">•</div>
<div class="t" style="left:450.0px;top:207.37px;font-size:9.6px;line-height:12px;font-weight:400;color:#151515;transform:scaleX(0.9526);-webkit-text-stroke:0.15px #151515;">•</div>
<div class="t" style="left:450.0px;top:221.97px;font-size:9.6px;line-height:12px;font-weight:400;color:#151515;transform:scaleX(0.9526);-webkit-text-stroke:0.15px #151515;">•</div>
<div class="t" style="left:458.0px;top:179.27px;font-size:9.6px;line-height:12px;font-weight:400;color:#151515;transform:scaleX(1.0306);-webkit-text-stroke:0.15px #151515;">Lesions that are too small (e.g. 12 x 8 mm)</div>
<div class="t" style="left:458.0px;top:193.67px;font-size:9.6px;line-height:12px;font-weight:400;color:#151515;transform:scaleX(1.0292);-webkit-text-stroke:0.15px #151515;">Lesions that are only uni-dimensionally measurable</div>
<div class="t" style="left:458.0px;top:207.37px;font-size:9.6px;line-height:12px;font-weight:400;color:#151515;transform:scaleX(1.0287);-webkit-text-stroke:0.15px #151515;">Lesions with a poorly defined margin</div>
<div class="t" style="left:458.0px;top:221.97px;font-size:9.6px;line-height:12px;font-weight:400;color:#151515;transform:scaleX(1.0293);-webkit-text-stroke:0.15px #151515;">Lesions around a cyst or surgical cavity unless there is a</div>
<div class="t" style="left:458.0px;top:235.87px;font-size:9.6px;line-height:12px;font-weight:400;color:#151515;transform:scaleX(1.0253);-webkit-text-stroke:0.15px #151515;">nodular component measuring ≥ 10 mm in diameter.</div>
<div class="t" style="left:447.3px;top:261.19px;font-size:11px;line-height:14px;font-weight:400;color:#111;transform:scaleX(1.0137);-webkit-text-stroke:0.15px #111;">Non-enhancing Tumor (seen only on T2/FLAIR)</div>
<div class="t" style="left:449.0px;top:281.47px;font-size:9.6px;line-height:12px;font-weight:400;color:#151515;transform:scaleX(1.0370);-webkit-text-stroke:0.15px #151515;">Exclude other “T2-effects”: radiation therapy, demyelination, ischemic injury,</div>
<div class="t" style="left:449.0px;top:295.67px;font-size:9.6px;line-height:12px;font-weight:400;color:#151515;transform:scaleX(1.0330);-webkit-text-stroke:0.15px #151515;">infection, seizures, postoperative changes, or other treatment effects</div>
<div class="t" style="left:21.2px;top:334.73px;font-size:10.6px;line-height:13px;font-weight:700;color:#111;transform:scaleX(0.9187);">Measurable lesions</div>
<div class="t" style="left:436.7px;top:334.83px;font-size:10.6px;line-height:13px;font-weight:700;color:#111;transform:scaleX(0.9251);">Non-measurable lesions</div>
<div class="t" style="left:216.7px;top:447.57px;font-size:9.6px;line-height:12px;font-weight:400;color:#111;transform:scaleX(0.9780);-webkit-text-stroke:0.35px #111;">In solid tumors &gt;2 x thickness (slice + gap)</div>
<div class="t" style="left:216.7px;top:460.17px;font-size:9.6px;line-height:12px;font-weight:400;color:#111;transform:scaleX(1.0162);-webkit-text-stroke:0.35px #111;">scanned with differently angulated axial</div>
<div class="t" style="left:216.7px;top:473.07px;font-size:9.6px;line-height:12px;font-weight:400;color:#111;transform:scaleX(0.9964);-webkit-text-stroke:0.35px #111;">slices yields moderate differences in shape</div>
<div class="t" style="left:216.7px;top:485.17px;font-size:9.6px;line-height:12px;font-weight:400;color:#111;transform:scaleX(1.0160);-webkit-text-stroke:0.35px #111;">and partial volume effects</div>
<div class="t" style="left:630.0px;top:462.17px;font-size:9.6px;line-height:12px;font-weight:400;color:#111;transform:scaleX(1.0417);-webkit-text-stroke:0.35px #111;">Necrotic tumors scanned with differently</div>
<div class="t" style="left:630.0px;top:474.87px;font-size:9.6px;line-height:12px;font-weight:400;color:#111;transform:scaleX(1.0125);-webkit-text-stroke:0.35px #111;">angulated axial slices yields different</div>
<div class="t" style="left:630.0px;top:487.57px;font-size:9.6px;line-height:12px;font-weight:400;color:#111;transform:scaleX(1.0384);-webkit-text-stroke:0.35px #111;">lesions with different partial volume effects</div>
<div class="t" style="left:168.2px;top:353.27px;font-size:9.6px;line-height:12px;font-weight:400;color:#111;transform:rotate(-10deg) scaleX(0.9583);-webkit-text-stroke:0.3px #111;will-change:transform;">sclice</div>
<div class="t" style="left:177.6px;top:364.57px;font-size:9.6px;line-height:12px;font-weight:400;color:#111;transform:rotate(-10deg) scaleX(0.9303);-webkit-text-stroke:0.3px #111;will-change:transform;">gap</div>
<div class="t" style="left:165.4px;top:518.97px;font-size:9.6px;line-height:12px;font-weight:400;color:#111;transform:scaleX(0.9625);-webkit-text-stroke:0.3px #111;">sclice</div>
<div class="t" style="left:171.3px;top:528.67px;font-size:9.6px;line-height:12px;font-weight:400;color:#111;transform:scaleX(0.9179);-webkit-text-stroke:0.3px #111;">gap</div>
<div class="t" style="left:578.6px;top:354.87px;font-size:9.6px;line-height:12px;font-weight:400;color:#111;transform:rotate(-11deg) scaleX(0.9417);-webkit-text-stroke:0.3px #111;will-change:transform;">sclice</div>
<div class="t" style="left:587.6px;top:365.07px;font-size:9.6px;line-height:12px;font-weight:400;color:#111;transform:rotate(-11deg) scaleX(0.9865);-webkit-text-stroke:0.3px #111;will-change:transform;">gap</div>
<div class="t" style="left:575.6px;top:520.67px;font-size:9.6px;line-height:12px;font-weight:400;color:#111;transform:scaleX(0.9500);-webkit-text-stroke:0.3px #111;">sclice</div>
<div class="t" style="left:581.0px;top:530.67px;font-size:9.6px;line-height:12px;font-weight:400;color:#111;transform:scaleX(0.9366);-webkit-text-stroke:0.3px #111;">gap</div>
</body></html>
